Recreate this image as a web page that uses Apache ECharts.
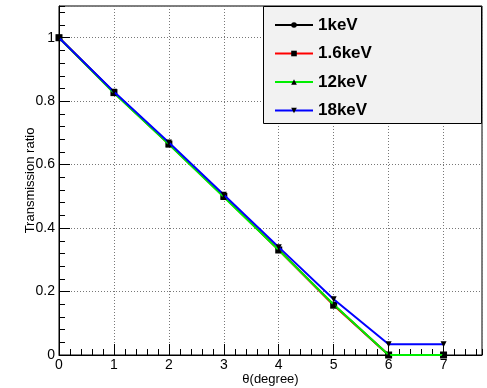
<!DOCTYPE html>
<html>
<head>
<meta charset="utf-8">
<script src="https://cdn.jsdelivr.net/npm/echarts@6/dist/echarts.min.js"></script>
<style>
  html, body { margin: 0; padding: 0; background: #fff; }
  #chart { width: 487px; height: 388px; }
</style>
</head>
<body>
<div id="chart"></div>
<script>
    // 数据
    var theta = [0, 1, 2, 3, 4, 5, 6, 7];
    var names = ['1keV', '1.6keV', '12keV', '18keV'];
    var kev1 = [1, 0.828, 0.666, 0.500, 0.332, 0.158, 0, 0];
    var kev16 = [1, 0.827, 0.665, 0.500, 0.331, 0.157, 0, 0];
    var kev12 = [1, 0.826, 0.664, 0.498, 0.331, 0.159, 0, 0];
    var kev18 = [1, 0.830, 0.670, 0.505, 0.340, 0.176, 0.034, 0.034];
    var lineColors = ['#000000', '#ff0000', '#00ee00', '#0000ff'];
    var symbols = ['circle', 'rect', 'triangle', 'path://M0,0 L10,0 L5,10 Z'];
    var symbolSizes = [5, 7, 6, 6];
    var yTicks = ['0', '0.2', '0.4', '0.6', '0.8', '1'];

    function pairs(vals) {
        var out = [];
        for (var i = 0; i < theta.length; i++) {
            out.push([theta[i], vals[i]]);
        }
        return out;
    }

    var allVals = [kev1, kev16, kev12, kev18];
    var series = [];
    for (var k = 0; k < names.length; k++) {
        series.push({
            name: names[k],
            type: 'line',
            data: pairs(allVals[k]),
            symbol: symbols[k],
            symbolSize: symbolSizes[k],
            showSymbol: true,
            lineStyle: { color: lineColors[k], width: 2 },
            itemStyle: { color: '#000' },
            animation: false,
            z: 2 + k
        });
    }

    var myChart = echarts.init(document.getElementById('chart'));
    var font = 'Liberation Sans, Arial, sans-serif';
    var option = {
        animation: false,
        grid: {
            left: 59, right: 5, top: 6, bottom: 33,
            outerBoundsMode: 'none', containLabel: false,
            show: true, borderColor: '#000', borderWidth: 1
        },
        legend: {
            orient: 'vertical',
            left: 274,
            top: 15,
            padding: 0,
            itemWidth: 38,
            itemHeight: 7,
            itemGap: 8.5,
            data: names,
            textStyle: { fontFamily: font, fontSize: 17, fontWeight: 'bold', color: '#000', lineHeight: 20 }
        },
        graphic: [{
            type: 'rect',
            shape: { x: 263.5, y: 6.5, width: 218, height: 117 },
            style: { fill: '#f2f2f2', stroke: '#000', lineWidth: 1 },
            z: 3
        }],
        xAxis: [{
            type: 'value',
            min: 0,
            max: 7.7,
            interval: 1,
            name: 'θ(degree)',
            nameLocation: 'middle',
            nameGap: 18,
            nameMoveOverlap: false,
            nameTextStyle: { fontFamily: font, fontSize: 13, color: '#000', verticalAlign: 'top' },
            axisLine: { lineStyle: { color: '#000' } },
            axisTick: { inside: true, length: 11, lineStyle: { color: '#000' } },
            axisLabel: {
                fontFamily: font, fontSize: 14, color: '#000', margin: 3,
                showMaxLabel: false,
                formatter: function (v) { return (v % 1 === 0) ? String(v) : ''; }
            },
            splitLine: { show: true, lineStyle: { color: '#777', type: [1, 2], width: 1 } }
        }, {
            type: 'value',
            min: 0,
            max: 7.7,
            interval: 0.2,
            position: 'bottom',
            axisLine: { show: false },
            axisTick: { inside: true, length: 6, lineStyle: { color: '#000' } },
            axisLabel: { show: false },
            splitLine: { show: false }
        }],
        yAxis: [{
            type: 'value',
            min: 0,
            max: 1.1,
            interval: 0.2,
            name: 'Transmission ratio',
            nameLocation: 'middle',
            nameGap: 22,
            nameMoveOverlap: false,
            nameTextStyle: { fontFamily: font, fontSize: 13, color: '#000' },
            axisLine: { show: true, lineStyle: { color: '#000' } },
            axisTick: { show: true, inside: true, length: 11, lineStyle: { color: '#000' } },
            axisLabel: {
                fontFamily: font, fontSize: 14, color: '#000', margin: 4,
                showMaxLabel: false,
                formatter: function (v) {
                    var idx = Math.round(v / 0.2);
                    return (Math.abs(v - idx * 0.2) < 1e-6 && idx < yTicks.length) ? yTicks[idx] : '';
                }
            },
            splitLine: { show: true, lineStyle: { color: '#777', type: [1, 2], width: 1 } }
        }, {
            type: 'value',
            min: 0,
            max: 1.1,
            interval: 0.04,
            position: 'left',
            axisLine: { show: false },
            axisTick: { show: true, inside: true, length: 6, lineStyle: { color: '#000' } },
            axisLabel: { show: false },
            splitLine: { show: false }
        }],
        series: series
    };
    myChart.setOption(option);
</script>
</body>
</html>
